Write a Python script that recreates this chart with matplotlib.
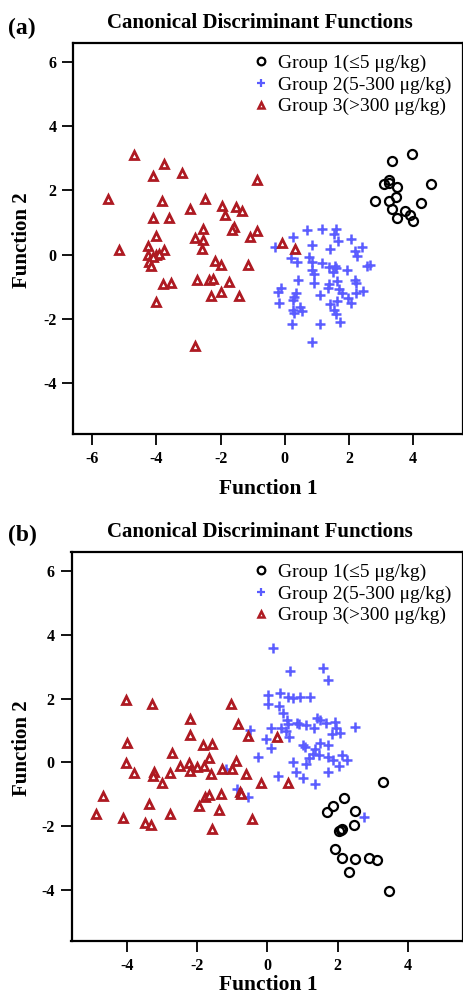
import matplotlib
matplotlib.use('Agg')
import matplotlib.pyplot as plt
from matplotlib.lines import Line2D

plt.rcParams['font.family'] = ['Liberation Serif', 'DejaVu Serif']

# ---- panel (a) scores ----
a_g1_x = [3.34, 3.96, 3.23, 3.08, 3.25, 3.48, 4.56, 2.81, 3.25, 3.46, 4.24, 3.34, 3.75, 3.90, 4.00, 3.50]
a_g1_y = [2.92, 3.15, 2.32, 2.19, 2.24, 2.11, 2.19, 1.68, 1.68, 1.78, 1.61, 1.42, 1.35, 1.23, 1.06, 1.14]

a_g2_x = [0.68, 1.15, 1.58, 1.53, 1.66, 0.24, 2.07, -0.32, 0.86, 1.42, 2.18, 2.41, 2.25, 0.18, 0.38,
          0.74, 0.85, 1.15, 1.36, 1.55, 1.59, 1.94, 2.56, 2.65, 0.85, 0.91, 0.40, 0.92, 1.38, 1.63,
          2.19, 2.23, 1.35, 1.69, 1.78, -0.13, -0.20, 0.36, 0.30, 1.09, 2.21, 2.45, -0.19, 0.26, 1.40,
          1.63, 1.96, 2.06, 0.24, 0.47, 0.30, 0.53, 1.53, 1.59, 0.22, 1.11, 1.71, 0.84, 1.50]
a_g2_y = [0.78, 0.80, 0.81, 0.63, 0.43, 0.55, 0.49, 0.24, 0.29, 0.17, 0.12, 0.22, -0.05, -0.12, -0.23,
          -0.08, -0.22, -0.26, -0.38, -0.35, -0.43, -0.49, -0.36, -0.32, -0.49, -0.61, -0.78, -0.90, -0.92, -0.82,
          -0.80, -0.88, -1.06, -1.09, -1.21, -1.06, -1.18, -1.21, -1.32, -1.26, -1.21, -1.15, -1.51, -1.42, -1.53,
          -1.46, -1.37, -1.51, -1.73, -1.65, -1.84, -1.76, -1.73, -1.86, -2.18, -2.18, -2.10, -2.72, -0.54]

a_g3_x = [-4.69, -3.75, -4.11, -3.19, -0.88, -5.51, -3.84, -2.50, -2.96, -1.96, -1.53, -1.33, -1.87, -4.11,
          -3.61, -2.55, -1.59, -1.65, -0.88, -1.09, -4.02, -2.80, -2.55, -4.25, -5.17, -3.78, -2.58, -4.26,
          -4.02, -3.91, -4.10, -4.23, -4.17, -2.19, -1.99, -1.15, -3.79, -3.54, -2.73, -2.36, -2.25, -1.75,
          -1.98, -2.30, -1.42, -4.02, -2.79, -0.09, 0.32]
a_g3_y = [3.10, 2.81, 2.45, 2.55, 2.31, 1.72, 1.67, 1.74, 1.42, 1.51, 1.47, 1.36, 1.24, 1.14,
          1.14, 0.80, 0.86, 0.76, 0.73, 0.55, 0.57, 0.53, 0.45, 0.28, 0.14, 0.14, 0.16, -0.03,
          -0.02, 0.01, -0.07, -0.23, -0.36, -0.20, -0.33, -0.32, -0.92, -0.90, -0.78, -0.78, -0.77, -0.85,
          -1.16, -1.28, -1.29, -1.48, -2.86, 0.35, 0.16]

# ---- panel (b) scores ----
b_g1_x = [3.28, 2.18, 1.88, 1.69, 2.49, 2.46, 2.13, 2.05, 2.09, 1.93, 2.13, 2.49, 2.33, 2.90, 3.13, 3.47]
b_g1_y = [-0.61, -1.13, -1.36, -1.55, -1.51, -1.95, -2.08, -2.14, -2.12, -2.72, -3.01, -3.04, -3.43, -3.01, -3.06, -4.02]

b_g2_x = [0.17, 0.65, 1.58, 1.72, 0.03, 0.35, 0.60, 0.74, 0.92, 1.21, 0.02, 0.33, 0.44, 0.57, 0.60,
          0.85, 0.91, 1.10, 1.42, 1.50, 1.67, 1.92, 1.33, 1.95, 2.50, 0.10, 0.38, -0.49, 0.53, 0.61,
          1.84, 2.07, -0.04, 0.11, 1.01, 1.06, 1.50, 1.74, 1.36, 1.29, 1.46, 1.19, 1.73, 1.88, 2.14,
          2.28, -0.26, 0.72, 1.10, 2.05, 0.82, 1.73, 0.32, 1.02, 1.36, -0.55, 2.75, -1.16, -0.85]
b_g2_y = [3.60, 2.86, 2.95, 2.58, 2.12, 2.18, 2.06, 2.03, 2.04, 2.04, 1.82, 1.77, 1.56, 1.33, 1.20,
          1.24, 1.20, 1.18, 1.38, 1.33, 1.24, 1.28, 1.09, 1.08, 1.11, 1.09, 1.07, 1.03, 0.98, 0.81,
          0.89, 0.92, 0.72, 0.44, 0.54, 0.47, 0.62, 0.54, 0.41, 0.26, 0.23, 0.14, 0.18, 0.08, 0.22,
          0.07, 0.17, 0.00, -0.06, -0.10, -0.29, -0.29, -0.43, -0.49, -0.67, -1.07, -1.70, -0.19, -0.82]

b_g3_x = [-4.02, -3.29, -1.04, -2.20, -0.82, -0.56, -2.20, -3.98, -1.82, -1.58, -2.72, -1.66, -4.02,
          -2.47, -2.24, -1.99, -1.80, -0.89, -1.30, -1.00, -3.79, -3.21, -3.26, -2.77, -2.20, -1.61,
          -0.61, -3.00, -4.67, -3.37, -1.77, -1.65, -1.33, -0.78, -0.74, -1.94, -1.37, -4.87, -4.11,
          -3.47, -3.31, -2.77, -1.57, -0.44, 0.28, -0.17, 0.60]
b_g3_y = [1.96, 1.83, 1.83, 1.35, 1.20, 0.83, 0.86, 0.62, 0.54, 0.58, 0.30, 0.14, -0.01,
          -0.10, -0.01, -0.13, -0.11, 0.03, -0.22, -0.19, -0.34, -0.29, -0.41, -0.32, -0.28, -0.36,
          -0.35, -0.66, -1.05, -1.30, -1.09, -1.03, -0.99, -0.94, -0.99, -1.37, -1.49, -1.63, -1.74,
          -1.91, -1.95, -1.63, -2.10, -1.76, 0.79, -0.64, -0.64]

group_labels = ['Group 1(\u22645 \u03bcg/kg)', 'Group 2(5-300 \u03bcg/kg)', 'Group 3(>300 \u03bcg/kg)']
xticks_a = [-6, -4, -2, 0, 2, 4]
xticks_b = [-4, -2, 0, 2, 4]
yticks = [-4, -2, 0, 2, 4, 6]

c_black = 'black'
c_blue = '#5a5cff'
c_red = '#ae1a22'

W, H = 463, 996
fig = plt.figure(figsize=(W / 100, H / 100), dpi=100)


def px_axes(left, top, right, bottom):
    return [left / W, 1 - bottom / H, (right - left) / W, (bottom - top) / H]


def draw_panel(ax, g1x, g1y, g2x, g2y, g3x, g3y, xticks, xlim):
    ax.plot(g1x, g1y, 'o', ls='none', mfc='none', mec=c_black, ms=6.5, mew=1.6)
    ax.plot(g2x, g2y, '+', ls='none', color=c_blue, ms=7, mew=1.8)
    ax.plot(g3x, g3y, '^', ls='none', mfc='white', mec=c_red, ms=5.6, mew=2.0)
    ax.set_xlim(*xlim)
    ax.set_ylim(-5.6, 6.6)
    ax.set_xticks(xticks)
    ax.set_yticks(yticks)
    ax.set_xticklabels([str(t) for t in xticks], fontweight='bold', fontsize=11.5)
    ax.set_yticklabels([str(t) for t in yticks], fontweight='bold', fontsize=11.5)
    ax.tick_params(direction='out', length=8, width=1.3, pad=4, top=False, right=False)
    for s in ax.spines.values():
        s.set_linewidth(1.6)
    handles = [
        Line2D([], [], marker='o', ls='none', mfc='none', mec=c_black, ms=5.5, mew=1.6),
        Line2D([], [], marker='+', ls='none', color=c_blue, ms=6, mew=1.6),
        Line2D([], [], marker='^', ls='none', mfc='white', mec=c_red, ms=5, mew=1.8),
    ]
    ax.legend(handles, group_labels, loc='upper right', bbox_to_anchor=(1.0, 1.0),
              frameon=False, fontsize=14, handlelength=0.8, handletextpad=0.45,
              labelspacing=0.2, borderaxespad=0.2)


ax_a = fig.add_axes(px_axes(73, 43, 463, 434))
draw_panel(ax_a, a_g1_x, a_g1_y, a_g2_x, a_g2_y, a_g3_x, a_g3_y, xticks_a, (-6.6, 5.55))
ax_b = fig.add_axes(px_axes(71.5, 552, 463, 941))
draw_panel(ax_b, b_g1_x, b_g1_y, b_g2_x, b_g2_y, b_g3_x, b_g3_y, xticks_b, (-5.57, 5.57))

bold = dict(fontweight='bold')
# panel letters and titles
fig.text(8 / W, 1 - 28 / H, '(a)', fontsize=17, va='center', ha='left', **bold)
fig.text(260 / W, 1 - 23 / H, 'Canonical Discriminant Functions', fontsize=15, ha='center', va='center', **bold)
fig.text(8 / W, 1 - 535 / H, '(b)', fontsize=17, va='center', ha='left', **bold)
fig.text(260 / W, 1 - 532 / H, 'Canonical Discriminant Functions', fontsize=15, ha='center', va='center', **bold)

# axis titles
fig.text(268 / W, 1 - 489 / H, 'Function 1', fontsize=15.5, ha='center', va='center', **bold)
fig.text(22 / W, 1 - 240 / H, 'Function 2', fontsize=15, ha='center', va='center', rotation=90, **bold)
fig.text(268 / W, 1 - 985 / H, 'Function 1', fontsize=15.5, ha='center', va='center', **bold)
fig.text(22 / W, 1 - 748 / H, 'Function 2', fontsize=15, ha='center', va='center', rotation=90, **bold)

fig.savefig('out.png', dpi=100)
